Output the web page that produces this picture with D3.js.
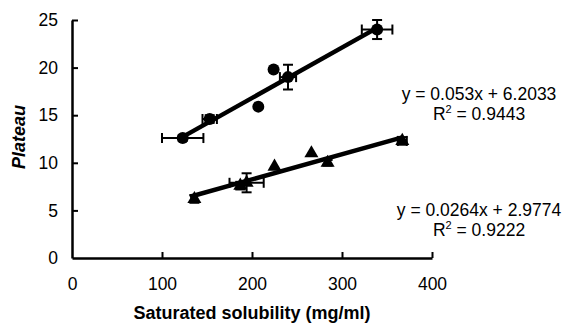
<!DOCTYPE html>
<html>
<head>
<meta charset="utf-8">
<script src="https://cdn.jsdelivr.net/npm/d3@7"></script>
<style>
  body { margin: 0; background: #fff; }
  svg { display: block; font-family: "Liberation Sans", Arial, sans-serif; }
</style>
</head>
<body>
<svg width="571" height="324"></svg>
<script>
// circles series
var x1 = [123, 153, 207, 224, 240, 339];
var y1 = [12.6, 14.6, 15.9, 19.8, 19.0, 24.0];
var xerr1 = [23, 8, 0, 0, 9, 17];
var yerr1 = [0.3, 0.4, 0, 0, 1.3, 1.0];
// triangles series
var x2 = [136, 187, 194, 225, 266, 284, 367];
var y2 = [6.2, 7.6, 7.9, 9.6, 11.0, 10.0, 12.3];
var xerr2 = [0, 0, 19, 0, 0, 0, 5];
var yerr2 = [0.4, 0.4, 1.0, 0, 0, 0.3, 0.4];

var fit1 = { slope: 0.053, icpt: 6.2033, r2: "0.9443", from: 123, to: 340 };
var fit2 = { slope: 0.0264, icpt: 2.9774, r2: "0.9222", from: 131, to: 368 };

var xTicks = [0, 100, 200, 300, 400];
var yTicks = [0, 5, 10, 15, 20, 25];

var svg = d3.select("svg");

var x = d3.scaleLinear().domain([0, 400]).range([72, 432]);
var y = d3.scaleLinear().domain([0, 25]).range([258, 20]);

// axes
var xAxis = svg.append("g")
  .attr("transform", "translate(0," + y(0) + ")")
  .call(d3.axisBottom(x).tickValues(xTicks).tickSizeInner(-6).tickSizeOuter(0).tickPadding(20));
var yAxis = svg.append("g")
  .attr("transform", "translate(" + x(0) + ",0)")
  .call(d3.axisLeft(y).tickValues(yTicks).tickSizeInner(-6).tickSizeOuter(0).tickPadding(14));

svg.selectAll(".domain").attr("stroke", "#000").attr("stroke-width", 2.5);
svg.selectAll(".tick line").attr("stroke", "#000").attr("stroke-width", 2);
svg.selectAll(".tick text").attr("font-size", 17.5).attr("fill", "#000")
  .attr("font-family", "Liberation Sans, Arial, sans-serif");
xAxis.selectAll(".tick").filter(function (d) { return d === 0; }).select("line").remove();
yAxis.selectAll(".tick").filter(function (d) { return d === 0; }).select("line").remove();

// fit lines
function drawFit(f) {
  svg.append("line")
    .attr("x1", x(f.from)).attr("y1", y(f.slope * f.from + f.icpt))
    .attr("x2", x(f.to)).attr("y2", y(f.slope * f.to + f.icpt))
    .attr("stroke", "#000").attr("stroke-width", 4.5);
}
drawFit(fit1);
drawFit(fit2);

// error bars
function drawErr(xs, ys, xe, ye) {
  var g = svg.append("g").attr("stroke", "#000").attr("stroke-width", 2);
  xs.forEach(function (v, i) {
    var cx = x(v), cy = y(ys[i]);
    if (xe[i] > 0) {
      var a = x(v - xe[i]), b = x(v + xe[i]);
      g.append("line").attr("x1", a).attr("x2", b).attr("y1", cy).attr("y2", cy);
      g.append("line").attr("x1", a).attr("x2", a).attr("y1", cy - 5).attr("y2", cy + 5);
      g.append("line").attr("x1", b).attr("x2", b).attr("y1", cy - 5).attr("y2", cy + 5);
    }
    if (ye[i] > 0) {
      var t = y(ys[i] + ye[i]), u = y(ys[i] - ye[i]);
      g.append("line").attr("x1", cx).attr("x2", cx).attr("y1", t).attr("y2", u);
      g.append("line").attr("x1", cx - 5).attr("x2", cx + 5).attr("y1", t).attr("y2", t);
      g.append("line").attr("x1", cx - 5).attr("x2", cx + 5).attr("y1", u).attr("y2", u);
    }
  });
}
drawErr(x1, y1, xerr1, yerr1);
drawErr(x2, y2, xerr2, yerr2);

// markers
svg.append("g").selectAll("circle").data(x1).enter().append("circle")
  .attr("cx", function (d) { return x(d); })
  .attr("cy", function (d, i) { return y(y1[i]); })
  .attr("r", 6).attr("fill", "#000");

var tri = d3.symbol().type(d3.symbolTriangle).size(85);
svg.append("g").selectAll("path").data(x2).enter().append("path")
  .attr("d", tri)
  .attr("transform", function (d, i) { return "translate(" + x(d) + "," + y(y2[i]) + ")"; })
  .attr("fill", "#000");

// equations
function eqText(f, cx, by) {
  svg.append("text").attr("x", cx).attr("y", by).attr("text-anchor", "middle")
    .attr("font-size", 17.5).text("y = " + f.slope + "x + " + f.icpt);
  var t = svg.append("text").attr("x", cx).attr("y", by + 20).attr("text-anchor", "middle")
    .attr("font-size", 17.5);
  t.append("tspan").text("R");
  t.append("tspan").attr("font-size", 11).attr("dy", -7).text("2");
  t.append("tspan").attr("dy", 7).text(" = " + f.r2);
}
eqText(fit1, 479, 100);
eqText(fit2, 479, 216);

// axis titles
svg.append("text").attr("x", 252).attr("y", 319).attr("text-anchor", "middle")
  .attr("font-size", 18).attr("font-weight", "bold").text("Saturated solubility (mg/ml)");
svg.append("text").attr("transform", "translate(25,137) rotate(-90)").attr("text-anchor", "middle")
  .attr("font-size", 18).attr("font-weight", "bold").attr("font-style", "italic").text("Plateau");
</script>
</body>
</html>
